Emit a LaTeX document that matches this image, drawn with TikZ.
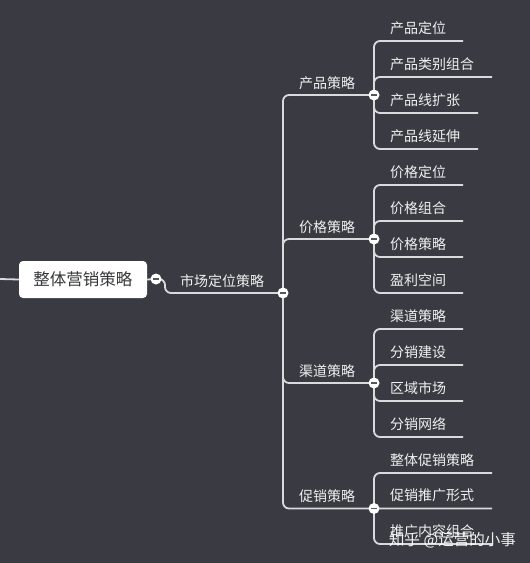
\documentclass[tikz,border=0pt]{standalone}
\usepackage{fontspec}
\setmainfont{Noto Sans CJK SC}
\definecolor{bg}{RGB}{58,59,66}
\definecolor{ln}{RGB}{218,218,220}
\definecolor{tx}{RGB}{240,240,240}
\definecolor{minuscol}{RGB}{85,86,92}
\definecolor{roottx}{RGB}{55,55,58}
\pgfdeclarelayer{under}
\pgfsetlayers{under,main}
\begin{document}
\begin{tikzpicture}[x=1pt,y=-1pt,
  conn/.style={draw=ln,line width=1.8pt,rounded corners=6pt},
  knob/.style={circle,fill=white,minimum size=11pt,inner sep=0pt,
    path picture={\draw[minuscol,line width=1.6pt]
      ([xshift=-3.2pt]path picture bounding box.center) --
      ([xshift=3.2pt]path picture bounding box.center);}},
  leaf/.style={anchor=base west,text=tx,inner sep=0pt,font=\fontsize{14}{16}\selectfont},
  branch/.style={anchor=base west,text=tx,inner sep=0pt,font=\fontsize{14}{16}\selectfont},
  rootbox/.style={fill=white,rounded corners=4pt,minimum width=128pt,minimum height=37pt,
    inner sep=0pt,text=roottx,font=\fontsize{16.5}{18}\selectfont}]
\useasboundingbox (0,0) rectangle (530,563);
% root
\coordinate (L) at (0,279);
\node[rootbox] (root) at (83,279.5) {整体营销策略};
\node[knob] (cr) at (156,279) {};
\node[branch] (t0) at (180,286) {市场定位策略};
\node[knob] (c0) at (283,293) {};
% level 1
\node[knob] (c1) at (374,95) {};
\node[knob] (c2) at (374,239) {};
\node[knob] (c3) at (374,383) {};
\node[knob] (c4) at (374,508.5) {};
\node[branch] (t1) at (299,88) {产品策略};
\node[branch] (t2) at (299,232) {价格策略};
\node[branch] (t3) at (299,376) {渠道策略};
\node[branch] (t4) at (299,501) {促销策略};
% leaves group 1
\coordinate (e11) at (463,41);  \node[leaf] (l11) at (390,33) {产品定位};
\coordinate (e12) at (492,77);  \node[leaf] (l12) at (390,69) {产品类别组合};
\coordinate (e13) at (478,113); \node[leaf] (l13) at (390,105) {产品线扩张};
\coordinate (e14) at (478,149); \node[leaf] (l14) at (390,141) {产品线延伸};
% group 2
\coordinate (e21) at (463,185); \node[leaf] (l21) at (390,177) {价格定位};
\coordinate (e22) at (463,221); \node[leaf] (l22) at (390,213) {价格组合};
\coordinate (e23) at (463,257); \node[leaf] (l23) at (390,249) {价格策略};
\coordinate (e24) at (463,293); \node[leaf] (l24) at (390,285) {盈利空间};
% group 3
\coordinate (e31) at (463,329); \node[leaf] (l31) at (390,321) {渠道策略};
\coordinate (e32) at (463,365); \node[leaf] (l32) at (390,357) {分销建设};
\coordinate (e33) at (463,401); \node[leaf] (l33) at (390,393) {区域市场};
\coordinate (e34) at (463,437); \node[leaf] (l34) at (390,429) {分销网络};
% group 4
\coordinate (e41) at (492,473);   \node[leaf] (l41) at (390,465) {整体促销策略};
\coordinate (e42) at (492,508.5); \node[leaf] (l42) at (390,500.5) {促销推广形式};
\coordinate (e43) at (492,544);   \node[leaf] (l43) at (390,536) {推广内容组合};
% watermark
\node[anchor=base west,inner sep=0pt,text=white,opacity=0.92,font=\fontsize{15.5}{17}\selectfont] (wm) at (389,545) {知乎 @运营的小事};
\begin{pgfonlayer}{under}
\fill[bg] (0,0) rectangle (530,563);
\draw[conn] (L) -- (root.west);
\draw[conn] (root.east) -- (cr.center);
\draw[conn] (cr.center) -- ([xshift=9pt]cr.center) |- (c0.center);
\foreach \c in {c1,c2,c3,c4} {\draw[conn] (c0.center) |- (\c.center);}
\foreach \e in {e11,e12,e13,e14} {\draw[conn] (c1.center) |- (\e);}
\foreach \e in {e21,e22,e23,e24} {\draw[conn] (c2.center) |- (\e);}
\foreach \e in {e31,e32,e33,e34} {\draw[conn] (c3.center) |- (\e);}
\foreach \e in {e41,e42,e43} {\draw[conn] (c4.center) |- (\e);}
\end{pgfonlayer}
\end{tikzpicture}
\end{document}
